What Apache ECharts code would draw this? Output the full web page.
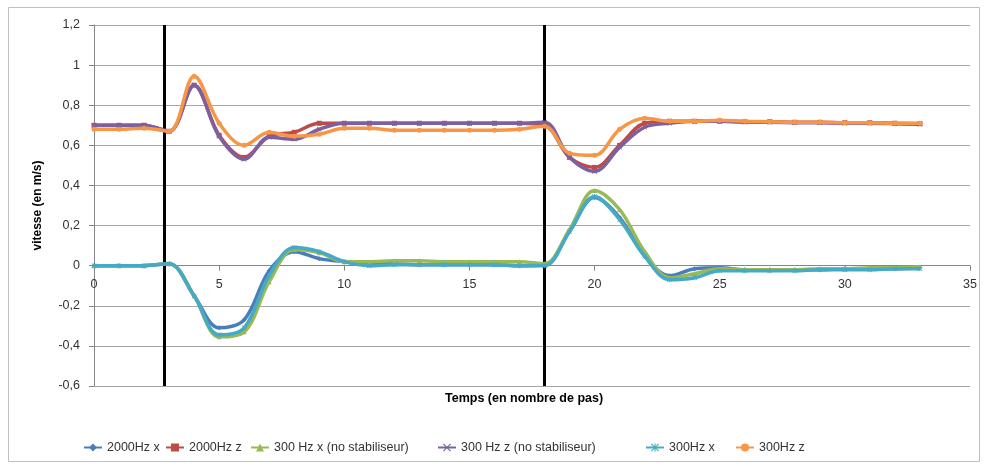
<!DOCTYPE html>
<html>
<head>
<meta charset="utf-8">
<script src="https://cdn.jsdelivr.net/npm/echarts@6/dist/echarts.min.js"></script>
<style>html,body{margin:0;padding:0;background:#fff}#c{width:984px;height:466px}</style>
</head>
<body>
<div id="c"></div>
<script>
// x positions (steps)
var steps = [];
for (var i = 0; i <= 33; i++) steps.push(i);

var seriesNames = ['2000Hz x', '2000Hz z', '300 Hz x (no stabiliseur)', '300 Hz z (no stabiliseur)', '300Hz x', '300Hz z'];

var v2000x = [0, 0, 0, 0.01, -0.15, -0.31, -0.27, -0.025, 0.07, 0.035, 0.02, 0.01, 0.01, 0.005, 0.005, 0.005, 0.005, 0.0, 0.005, 0.17, 0.34, 0.24, 0.05, -0.05, -0.015, -0.01, -0.02, -0.02, -0.02, -0.02, -0.015, -0.015, -0.015, -0.01];
var v2000z = [0.70, 0.70, 0.70, 0.67, 0.90, 0.65, 0.54, 0.645, 0.665, 0.71, 0.71, 0.71, 0.71, 0.71, 0.71, 0.71, 0.71, 0.71, 0.70, 0.54, 0.49, 0.60, 0.71, 0.72, 0.72, 0.72, 0.718, 0.718, 0.715, 0.715, 0.713, 0.713, 0.71, 0.708];
var v300xNo = [0, 0, 0, 0.01, -0.15, -0.355, -0.33, -0.08, 0.08, 0.065, 0.02, 0.02, 0.025, 0.025, 0.02, 0.02, 0.02, 0.02, 0.01, 0.18, 0.375, 0.28, 0.07, -0.06, -0.04, -0.015, -0.02, -0.02, -0.02, -0.015, -0.015, -0.01, -0.01, -0.005];
var v300zNo = [0.70, 0.70, 0.70, 0.67, 0.90, 0.645, 0.53, 0.64, 0.63, 0.68, 0.71, 0.71, 0.71, 0.71, 0.71, 0.71, 0.71, 0.71, 0.715, 0.54, 0.47, 0.59, 0.69, 0.71, 0.72, 0.72, 0.716, 0.715, 0.713, 0.712, 0.71, 0.71, 0.708, 0.705];
var v300x = [0, 0, 0, 0.01, -0.15, -0.345, -0.31, -0.05, 0.09, 0.07, 0.02, 0.0, 0.005, 0.005, 0.005, 0.005, 0.005, 0.0, 0.0, 0.17, 0.345, 0.23, 0.047, -0.07, -0.06, -0.025, -0.025, -0.025, -0.025, -0.02, -0.02, -0.02, -0.015, -0.015];
var v300z = [0.68, 0.68, 0.685, 0.67, 0.944, 0.71, 0.60, 0.665, 0.645, 0.655, 0.685, 0.685, 0.675, 0.675, 0.675, 0.675, 0.675, 0.68, 0.695, 0.56, 0.55, 0.68, 0.735, 0.72, 0.72, 0.725, 0.72, 0.718, 0.715, 0.715, 0.713, 0.713, 0.71, 0.71];

var phaseLines = [2.8, 18];

var colors = ['#4A7EBB', '#BE4B48', '#98B954', '#7D60A0', '#46AAC5', '#F79646'];
var symbols = ['diamond', 'rect', 'triangle',
  'path://M0,1L1,0L5,4L9,0L10,1L6,5L10,9L9,10L5,6L1,10L0,9L4,5Z',
  'path://M0,1L1,0L4.3,3.3L4.3,0L5.7,0L5.7,3.3L9,0L10,1L6.4,4.6L6.4,5.4L10,9L9,10L5.7,6.7L5.7,10L4.3,10L4.3,6.7L1,10L0,9L3.6,5.4L3.6,4.6Z',
  'circle'];
var allValues = [v2000x, v2000z, v300xNo, v300zNo, v300x, v300z];

var series = allValues.map(function (vals, k) {
  return {
    name: seriesNames[k],
    type: 'line',
    smooth: 0.35,
    data: steps.map(function (s, j) { return [s, vals[j]]; }),
    symbol: symbols[k],
    symbolSize: 5,
    showSymbol: true,
    lineStyle: { width: 3.5, color: colors[k] },
    itemStyle: { color: colors[k] },
    z: 3 + k
  };
});
series.push({
  name: 'phases',
  type: 'line',
  data: [],
  markLine: {
    silent: true,
    symbol: ['none', 'none'],
    label: { show: false },
    lineStyle: { color: '#000', width: 3, type: 'solid' },
    data: phaseLines.map(function (x) { return { xAxis: x }; })
  },
  z: 10
});

var legendLeft = [78, 160, 245, 432, 640, 730];
var legends = seriesNames.map(function (n, k) {
  return {
    data: [n],
    left: legendLeft[k],
    top: 436,
    itemWidth: 18,
    itemHeight: 10,
    itemGap: 0,
    textStyle: { fontFamily: 'Liberation Sans', fontSize: 12.5, color: '#333' }
  };
});

var yMin = -0.6, yMax = 1.2;
var gridTop = 25, gridBottom = 80, chartH = 466;
var plotH = chartH - gridTop - gridBottom;
var zeroOffset = -plotH * (0 - yMin) / (yMax - yMin);

var chart = echarts.init(document.getElementById('c'), null, { renderer: 'canvas' });
chart.setOption({
  animation: false,
  color: colors,
  grid: { left: 94, right: 14, top: gridTop, bottom: gridBottom },
  legend: legends,
  xAxis: {
    type: 'value', min: 0, max: 35, interval: 5,
    position: 'bottom', offset: zeroOffset,
    axisLine: { onZero: false, lineStyle: { color: '#868686' } },
    axisTick: { show: true, length: 5, lineStyle: { color: '#868686' } },
    axisLabel: { fontFamily: 'Liberation Sans', fontSize: 12.5, color: '#333', margin: 12 },
    splitLine: { show: false }
  },
  yAxis: {
    type: 'value', min: yMin, max: yMax, interval: 0.2,
    name: 'vitesse (en m/s)', nameLocation: 'middle', nameGap: 50,
    nameTextStyle: { fontFamily: 'Liberation Sans', fontSize: 12, fontWeight: 'bold', color: '#000' },
    axisLine: { show: true, onZero: false, lineStyle: { color: '#868686' } },
    axisTick: { show: true, length: 5, lineStyle: { color: '#868686' } },
    axisLabel: {
      fontFamily: 'Liberation Sans', fontSize: 12.5, color: '#333', margin: 14,
      formatter: function (v) { return String(Math.round(v * 10) / 10).replace('.', ','); }
    },
    splitLine: { show: true, lineStyle: { color: '#A6A6A6', width: 1 } }
  },
  graphic: [
    { type: 'rect', shape: { x: 8.5, y: 7.5, width: 971, height: 454 }, style: { fill: 'none', stroke: '#BFBFBF', lineWidth: 1 }, z: -1 },
    { type: 'text', left: 445, top: 392, style: { text: 'Temps (en nombre de pas)', font: 'bold 12.5px "Liberation Sans"', fill: '#000' } }
  ],
  series: series
});
</script>
</body>
</html>
